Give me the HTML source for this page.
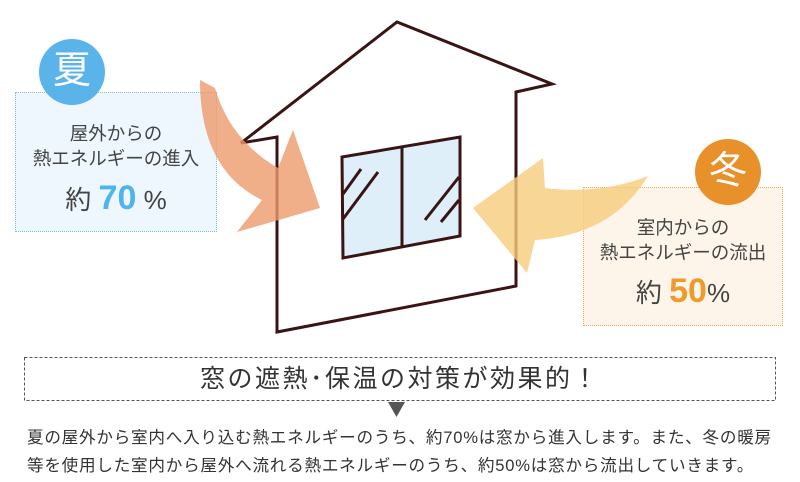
<!DOCTYPE html>
<html><head><meta charset="utf-8"><style>
body{margin:0;width:800px;height:482px;background:#fff;position:relative;overflow:hidden;font-family:"Liberation Sans","Noto Sans CJK JP",sans-serif;color:#333}
.box{position:absolute;text-align:center;box-sizing:border-box}
.t{position:absolute;left:-10px;right:-10px;font-size:18.5px;line-height:25px;color:#444}
.p{position:absolute;left:0;right:0;font-size:26px;line-height:36px;color:#444}
.p b{font-size:34px;font-weight:bold}
.c{position:absolute;border-radius:50%;color:#fff;font-size:38px;text-align:center}
</style></head><body>
<div class="box" style="left:15px;top:92px;width:202px;height:140px;background:#eef7fd;border:1px dotted #7cc0e6">
<div class="t" style="top:28px">屋外からの<br>熱エネルギーの進入</div>
<div class="p" style="top:87px">約 <b style="color:#4fb3ec">70</b> %</div>
</div>
<div class="c" style="left:39px;top:39px;width:66px;height:66px;line-height:64px;background:#5ab4ea">夏</div>
<div class="box" style="left:583px;top:187px;width:200px;height:139px;background:#fdf5ea;border:1px dotted #f0a860">
<div class="t" style="top:27px">室内からの<br>熱エネルギーの流出</div>
<div class="p" style="top:85px">約 <b style="color:#ef9a2c">50</b>%</div>
</div>
<div class="c" style="left:695px;top:139px;width:66px;height:66px;line-height:64px;background:#e8902a">冬</div>
<svg width="800" height="482" style="position:absolute;left:0;top:0">
<polygon points="277,332 277,137 241,143 397,22 552,84 516,92 516,286" fill="none" stroke="#3a1414" stroke-width="3" stroke-linejoin="miter"/>
<polygon points="342,157 460,137 460,236 343,258" fill="#deeffa" stroke="#3a1414" stroke-width="3"/>
<g stroke="#3a1414" stroke-width="3">
<line x1="402" y1="147" x2="402" y2="247"/>
<line x1="343" y1="194" x2="361" y2="169"/>
<line x1="343" y1="219" x2="378" y2="172"/>
<line x1="425" y1="220" x2="459" y2="177"/>
<line x1="441" y1="222" x2="459" y2="200"/>
</g>
<path d="M200,80 Q200,170 262,200 L237,232 L320,208 L293,130 L278,168 Q230,140 215,88 Z" fill="#ec9a6c" fill-opacity="0.8"/>
<path d="M543,158 L473,208 L527,273 L535,240 Q612,235 648,176 Q600,195 545,188 Z" fill="#f6cc7c" fill-opacity="0.8"/>
<rect x="24.5" y="357.5" width="751" height="43" fill="none" stroke="#555" stroke-dasharray="3,2"/>
<polygon points="388,402 405,402 396.5,417" fill="#555"/>
</svg>
<div style="position:absolute;left:24px;width:752px;top:359px;height:40px;line-height:40px;text-align:center;font-size:25px;color:#333;letter-spacing:2.5px">窓の遮熱･保温の対策が効果的！</div>
<div style="position:absolute;left:27px;top:424px;font-size:16.6px;line-height:28px;color:#333;white-space:nowrap;letter-spacing:0.75px">夏の屋外から室内へ入り込む熱エネルギーのうち、約70%は窓から進入します。また、冬の暖房<br>等を使用した室内から屋外へ流れる熱エネルギーのうち、約50%は窓から流出していきます。</div>
</body></html>
